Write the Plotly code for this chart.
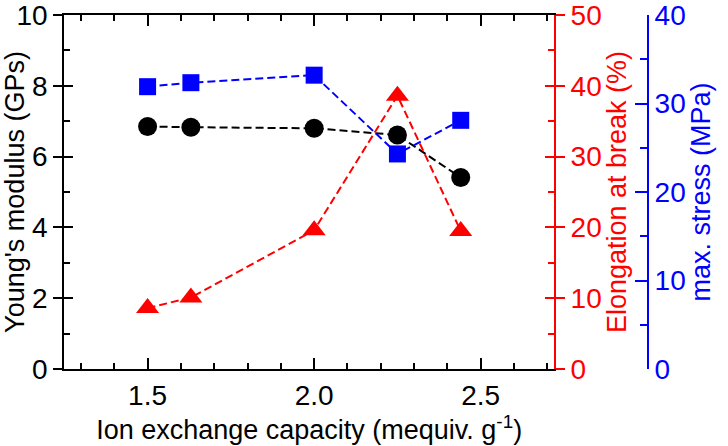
import plotly.graph_objects as go

# Data
iec = [1.5, 1.63, 2.0, 2.25, 2.44]
youngs_modulus = [6.85, 6.83, 6.80, 6.61, 5.41]
elongation = [8.6, 10.1, 19.6, 38.6, 19.5]
max_stress = [31.9, 32.35, 33.2, 24.3, 28.1]

x_ticks = [1.5, 2.0, 2.5]
modulus_ticks = [0, 2, 4, 6, 8, 10]
elongation_ticks = [0, 10, 20, 30, 40, 50]
stress_ticks = [0, 10, 20, 30, 40]

W, H = 728, 446
x_left, x_right = 64.3, 554.0
blue_axis_x = 648.0
FONT = "Liberation Sans, Arial, sans-serif"
TICK_SIZE = 28
TITLE_SIZE = 27
DASH = "8px,4px"

fig = go.Figure()
fig.add_trace(go.Scatter(
    x=iec, y=youngs_modulus, mode="lines+markers", yaxis="y",
    line=dict(color="black", width=2, dash=DASH),
    marker=dict(symbol="circle", size=19, color="black"),
    showlegend=False, cliponaxis=False))
fig.add_trace(go.Scatter(
    x=iec, y=elongation, mode="lines+markers", yaxis="y2",
    line=dict(color="#ff0000", width=2, dash=DASH),
    marker=dict(symbol="triangle-up", size=20, color="#ff0000"),
    showlegend=False, cliponaxis=False))
fig.add_trace(go.Scatter(
    x=iec, y=max_stress, mode="lines+markers", yaxis="y3",
    line=dict(color="#0000ff", width=2, dash=DASH),
    marker=dict(symbol="square", size=17, color="#0000ff"),
    showlegend=False, cliponaxis=False))
# empty traces so the helper tick axes (inner halves of crossing ticks) are drawn
fig.add_trace(go.Scatter(x=[], y=[], yaxis="y4", showlegend=False))
fig.add_trace(go.Scatter(x=[], y=[], yaxis="y5", showlegend=False))

common = dict(showgrid=False, zeroline=False, automargin=False, ticklabeloverflow="allow")

fig.update_layout(
    width=W, height=H,
    margin=dict(l=0, r=0, t=15, b=77),
    paper_bgcolor="white", plot_bgcolor="white",
    font=dict(family=FONT, color="black"),
    xaxis=dict(
        domain=[x_left / W, x_right / W], range=[1.25, 2.72],
        tickmode="array", tickvals=x_ticks, ticktext=[f"{v:.1f}" for v in x_ticks],
        ticks="inside", ticklen=11, tickwidth=2, tickcolor="black",
        minor=dict(dtick=0.1, tick0=1.5, ticks="inside", ticklen=6, tickwidth=1.5, tickcolor="black"),
        showline=True, linecolor="black", linewidth=2, mirror="ticks",
        tickfont=dict(size=TICK_SIZE, color="black"),
        title=dict(text="Ion exchange capacity (mequiv. g<sup>-1</sup>)",
                   font=dict(size=TITLE_SIZE, color="black"), standoff=2),
        **common),
    yaxis=dict(
        range=[0, 10], tickmode="array", tickvals=modulus_ticks,
        ticks="outside", ticklen=9, tickwidth=2, tickcolor="black",
        showline=True, linecolor="black", linewidth=2,
        tickfont=dict(size=TICK_SIZE, color="black"),
        title=dict(text="Young's modulus (GPs)", font=dict(size=TITLE_SIZE, color="black"), standoff=0),
        **common),
    yaxis4=dict(
        overlaying="y", anchor="x", side="left", range=[0, 10],
        tickmode="array", tickvals=modulus_ticks,
        ticks="inside", ticklen=9, tickwidth=2, tickcolor="black",
        minor=dict(dtick=1, tick0=0, ticks="inside", ticklen=6, tickwidth=1.5, tickcolor="black"),
        showticklabels=False, showline=False, **common),
    yaxis2=dict(
        overlaying="y", anchor="x", side="right", range=[0, 50],
        tickmode="array", tickvals=elongation_ticks,
        ticks="outside", ticklen=9, tickwidth=2, tickcolor="#ff0000",
        showline=True, linecolor="#ff0000", linewidth=2,
        tickfont=dict(size=TICK_SIZE, color="#ff0000"),
        title=dict(text="Elongation at break (%)", font=dict(size=TITLE_SIZE, color="#ff0000"), standoff=4),
        **common),
    yaxis5=dict(
        overlaying="y", anchor="x", side="right", range=[0, 50],
        tickmode="array", tickvals=elongation_ticks,
        ticks="inside", ticklen=9, tickwidth=2, tickcolor="#ff0000",
        minor=dict(dtick=5, tick0=0, ticks="inside", ticklen=6, tickwidth=1.5, tickcolor="#ff0000"),
        showticklabels=False, showline=False, **common),
    yaxis3=dict(
        overlaying="y", anchor="free", position=blue_axis_x / W, side="right",
        range=[0, 40], tickmode="array", tickvals=stress_ticks,
        ticks="inside", ticklen=12, tickwidth=2, tickcolor="#0000ff",
        minor=dict(dtick=5, tick0=0, ticks="inside", ticklen=7, tickwidth=1.5, tickcolor="#0000ff"),
        showline=True, linecolor="#0000ff", linewidth=2,
        tickfont=dict(size=TICK_SIZE, color="#0000ff"),
        title=dict(text="max. stress (MPa)", font=dict(size=TITLE_SIZE, color="#0000ff"), standoff=4),
        **common),
)

fig.write_html("out.html", config={"displayModeBar": False},
               post_script="document.body.style.margin='0';")
